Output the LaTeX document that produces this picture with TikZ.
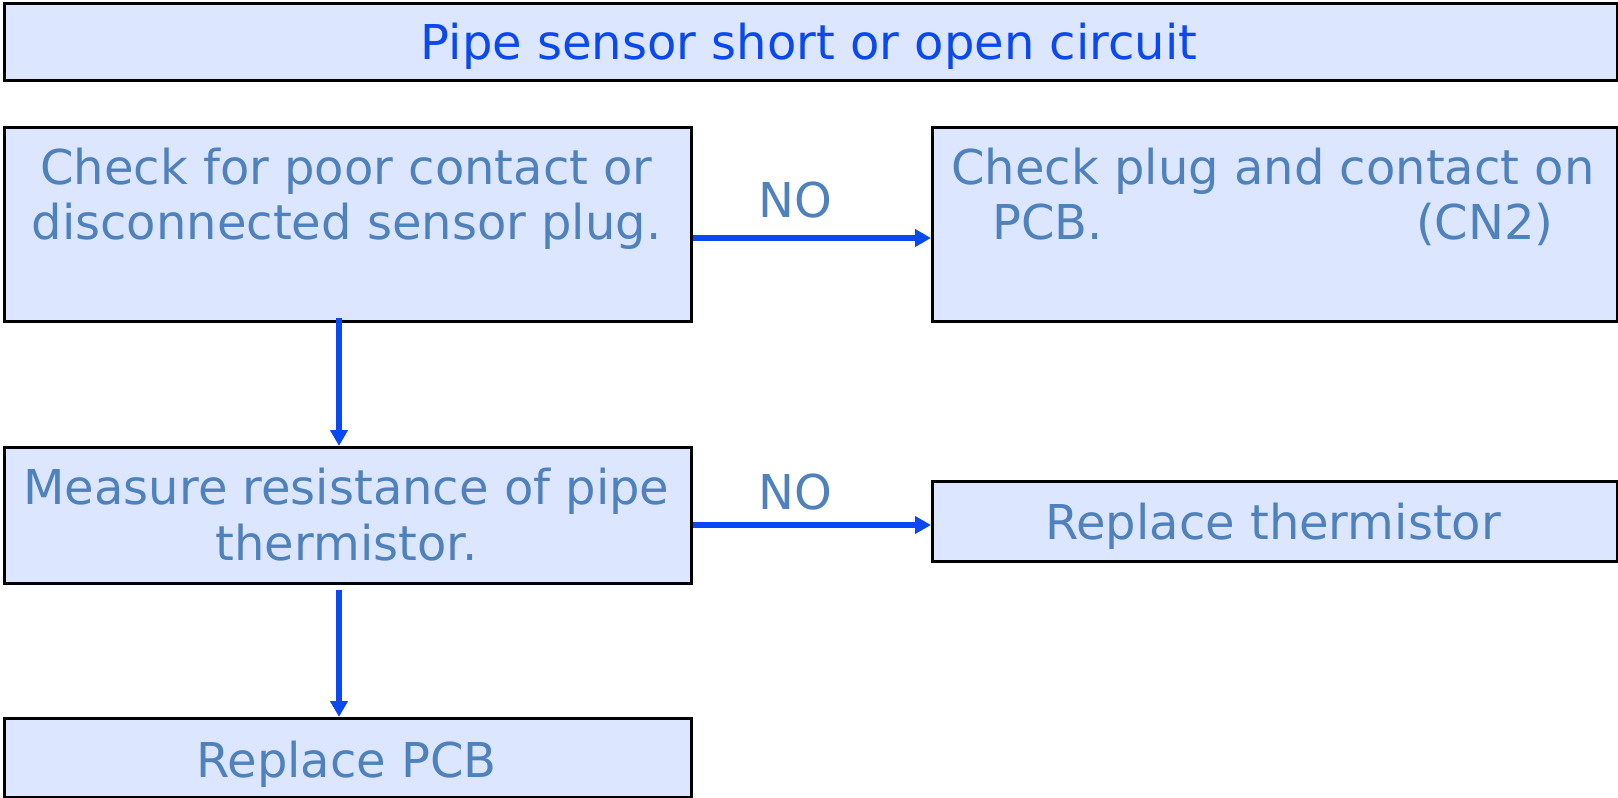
\documentclass[tikz,border=0pt]{standalone}
\usepackage{fontspec}
\setmainfont{DejaVu Sans}
\usetikzlibrary{arrows.meta}
\definecolor{boxfill}{HTML}{DCE6FF}
\definecolor{txtblue}{HTML}{4F81BD}
\definecolor{titleblue}{HTML}{0A48F2}
\begin{document}
\begin{tikzpicture}[x=1pt,y=-1pt,
  box/.style={draw=black, line width=3pt, fill=boxfill, inner sep=0pt, anchor=north west},
  txt/.style={text=txtblue, font=\fontsize{48}{57}\selectfont, inner sep=0pt, anchor=base},
  ttl/.style={text=titleblue, font=\fontsize{48}{57}\selectfont, inner sep=0pt, anchor=base},
  conn/.style={draw=titleblue, line width=5.5pt, -{Triangle[length=16pt,width=17pt]}}]
\useasboundingbox (0,0) rectangle (1618,798);
% boxes
\node[box, minimum width=1613pt, minimum height=77pt] (title) at (3,2) {};
\node[box, minimum width=687pt, minimum height=194pt] (b1) at (3,126) {};
\node[box, minimum width=685pt, minimum height=194pt] (b2) at (931,126) {};
\node[box, minimum width=687pt, minimum height=136pt] (b3) at (3,446) {};
\node[box, minimum width=685pt, minimum height=80pt] (b4) at (931,480) {};
\node[box, minimum width=687pt, minimum height=79pt] (b5) at (3,717) {};
% texts
\node[ttl] (t0) at (809,59) {Pipe sensor short or open circuit};
\node[txt] (t1a) at (346.5,184) {Check for poor contact or};
\node[txt] (t1b) at (346.5,239) {disconnected sensor plug.};
\node[txt] (t2a) at (1273,184) {Check plug and contact on};
\node[txt] (t2b) at (1273,239) {PCB.\hspace{313pt}(CN2)};
\node[txt] (t3a) at (346.5,504) {Measure resistance of pipe};
\node[txt] (t3b) at (346.5,560) {thermistor.};
\node[txt] (t4) at (1273,539) {Replace thermistor};
\node[txt] (t5) at (346.5,777) {Replace PCB};
\node[txt] (no1) at (795,217) {NO};
\node[txt] (no2) at (795,509) {NO};
% connectors
\coordinate (s1) at (339,318);
\coordinate (s2) at (339,590);
\draw[conn] (b1.east |- 0,238) -- (b2.west |- 0,238);
\draw[conn] (b3.east |- 0,525) -- (b4.west |- 0,525);
\draw[conn] (s1) -- (s1 |- b3.north);
\draw[conn] (s2) -- (s2 |- b5.north);
\end{tikzpicture}
\end{document}
